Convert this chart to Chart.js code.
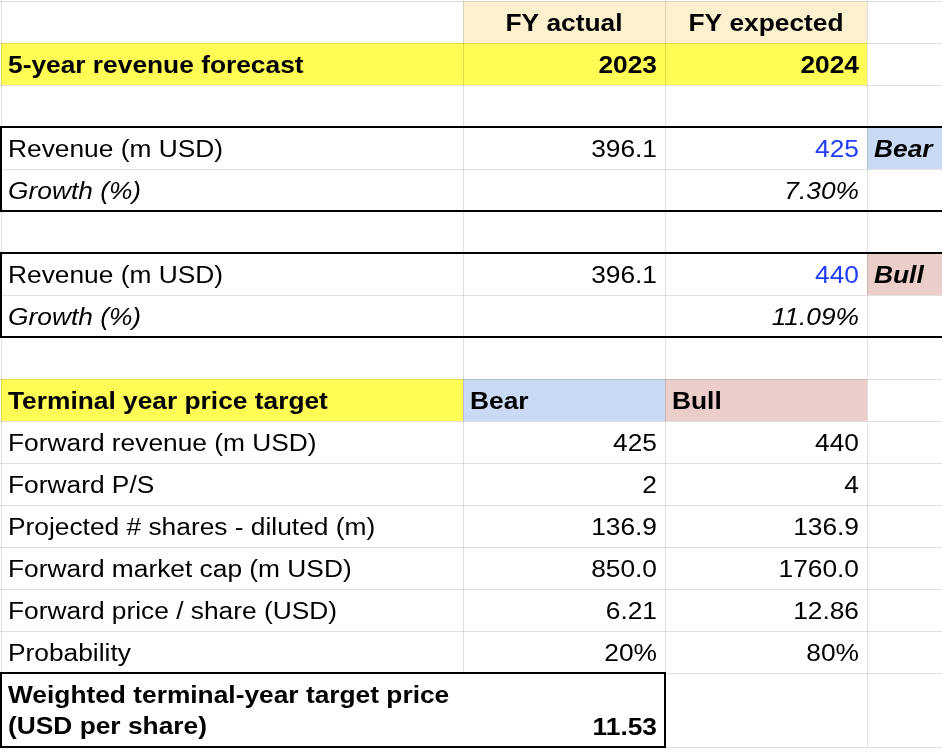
<!DOCTYPE html>
<html>
<head>
<meta charset="utf-8">
<script src="https://cdn.jsdelivr.net/npm/chart.js@4.4.1/dist/chart.umd.min.js"></script>
<style>
  body { margin: 0; background: #fff; }
  #wrap { width: 942px; height: 754px; }
</style>
</head>
<body>
<div id="wrap"><canvas id="sheet" width="942" height="754"></canvas></div>
<script>
// header / forecast block
const periodLabels = ['FY actual', 'FY expected'];
const fiscalYears = ['2023', '2024'];
const revenueActual = '396.1';
const bearRevenue = '425';
const bearGrowth = '7.30%';
const bullRevenue = '440';
const bullGrowth = '11.09%';

// price target block
const targetLabels = [
    'Forward revenue (m USD)',
    'Forward P/S',
    'Projected # shares - diluted (m)',
    'Forward market cap (m USD)',
    'Forward price / share (USD)',
    'Probability'
];
const bearValues = ['425', '2', '136.9', '850.0', '6.21', '20%'];
const bullValues = ['440', '4', '136.9', '1760.0', '12.86', '80%'];
const weightedLabel = ['Weighted terminal-year target price', '(USD per share)'];
const weightedPrice = '11.53';

// layout (sheet units)
const colEdges = [1, 463, 665, 867, 942];
const rowHeights = [42, 42, 42, 42, 42, 42, 42, 42, 42, 42, 42, 42, 42, 42, 42, 42, 74];
const FONT_SIZE = 23.5;
const TEXT_STRETCH = 1.12;   // the sheet text is rendered a bit wide

const YELLOW = '#fffc55';
const HEADER = '#fcf0cf';
const BLUE_FILL = '#cbdaf4';
const PINK_FILL = '#ebcdca';
const BLUE_TEXT = '#1f3cff';

const rowEdges = [1];
rowHeights.forEach(h => rowEdges.push(rowEdges[rowEdges.length - 1] + h));

function cell(text, opts) {
    return Object.assign({text: text, align: 'left'}, opts || {});
}

const rows = [];
rows.push([cell(''), cell(periodLabels[0], {align: 'center', bold: true, fill: HEADER}),
    cell(periodLabels[1], {align: 'center', bold: true, fill: HEADER}), cell('')]);
rows.push([cell('5-year revenue forecast', {bold: true, fill: YELLOW}),
    cell(fiscalYears[0], {align: 'right', bold: true, fill: YELLOW}),
    cell(fiscalYears[1], {align: 'right', bold: true, fill: YELLOW}), cell('')]);
rows.push([]);
rows.push([cell('Revenue (m USD)'), cell(revenueActual, {align: 'right'}),
    cell(bearRevenue, {align: 'right', color: BLUE_TEXT}),
    cell('Bear', {bold: true, italic: true, fill: BLUE_FILL})]);
rows.push([cell('Growth (%)', {italic: true}), cell(''), cell(bearGrowth, {align: 'right', italic: true}), cell('')]);
rows.push([]);
rows.push([cell('Revenue (m USD)'), cell(revenueActual, {align: 'right'}),
    cell(bullRevenue, {align: 'right', color: BLUE_TEXT}),
    cell('Bull', {bold: true, italic: true, fill: PINK_FILL})]);
rows.push([cell('Growth (%)', {italic: true}), cell(''), cell(bullGrowth, {align: 'right', italic: true}), cell('')]);
rows.push([]);
rows.push([cell('Terminal year price target', {bold: true, fill: YELLOW}),
    cell('Bear', {bold: true, fill: BLUE_FILL}), cell('Bull', {bold: true, fill: PINK_FILL}), cell('')]);
targetLabels.forEach((label, i) => {
    rows.push([cell(label), cell(bearValues[i], {align: 'right'}), cell(bullValues[i], {align: 'right'}), cell('')]);
});
rows.push([cell(weightedLabel, {bold: true}), cell(weightedPrice, {align: 'right', bold: true}), cell(''), cell('')]);

// black outlines: [firstCol, lastCol, firstRow, lastRow]
const outlines = [[0, 4, 3, 4], [0, 4, 6, 7], [0, 1, 16, 16]];

const sheetPlugin = {
    id: 'sheet',
    afterDraw(chart) {
        const ctx = chart.ctx;
        const xs = chart.scales.x;
        const ys = chart.scales.y;
        const px = v => xs.getPixelForValue(v);
        const py = v => ys.getPixelForValue(v);
        ctx.save();

        // fills
        rows.forEach((row, r) => {
            row.forEach((c, k) => {
                if (!c.fill) return;
                const x0 = px(colEdges[k]);
                const x1 = k + 1 < colEdges.length ? px(colEdges[k + 1]) : chart.width;
                ctx.fillStyle = c.fill;
                ctx.fillRect(x0, py(rowEdges[r]), x1 - x0, py(rowEdges[r + 1]) - py(rowEdges[r]));
            });
        });

        // grid lines
        ctx.strokeStyle = 'rgba(0,0,0,0.12)';
        ctx.lineWidth = 1;
        rowEdges.forEach(e => {
            const y = Math.round(py(e)) + 0.5;
            ctx.beginPath();
            ctx.moveTo(0, y);
            ctx.lineTo(chart.width, y);
            ctx.stroke();
        });
        colEdges.slice(0, 4).forEach((e, k) => {
            const x = Math.round(px(e)) + 0.5;
            ctx.beginPath();
            for (let r = 0; r < rowHeights.length; r++) {
                if (k === 1 && r === rowHeights.length - 1) continue;
                ctx.moveTo(x, py(rowEdges[r]));
                ctx.lineTo(x, py(rowEdges[r + 1]));
            }
            ctx.stroke();
        });

        // text
        rows.forEach((row, r) => {
            row.forEach((c, k) => {
                if (!c.text) return;
                const x0 = px(colEdges[k]);
                const x1 = px(colEdges[k + 1]);
                const bottom = py(rowEdges[r + 1]);
                ctx.font = (c.italic ? 'italic ' : '') + (c.bold ? 'bold ' : '') +
                    FONT_SIZE + 'px "Liberation Sans", Arial, sans-serif';
                ctx.fillStyle = c.color || '#000';
                ctx.textBaseline = 'alphabetic';
                let x;
                if (c.align === 'center') { ctx.textAlign = 'center'; x = (x0 + x1) / 2; }
                else if (c.align === 'right') { ctx.textAlign = 'right'; x = x1 - 8; }
                else { ctx.textAlign = 'left'; x = x0 + 7; }
                const lines = Array.isArray(c.text) ? c.text : [c.text];
                lines.forEach((line, i) => {
                    const last = lines.length - 1 - i;
                    ctx.save();
                    ctx.translate(x, bottom - (lines.length > 1 ? 13 : 12) - last * 31);
                    ctx.scale(TEXT_STRETCH, 1);
                    ctx.fillText(line, 0, 0);
                    ctx.restore();
                });
            });
        });

        // black outlines
        ctx.strokeStyle = '#000';
        ctx.lineWidth = 2;
        outlines.forEach(o => {
            const x0 = px(colEdges[o[0]]);
            const x1 = o[1] + 1 < colEdges.length ? px(colEdges[o[1] + 1]) : chart.width + 2;
            const y0 = py(rowEdges[o[2]]);
            const y1 = py(rowEdges[o[3] + 1]);
            ctx.strokeRect(x0, y0, x1 - x0, y1 - y0);
        });
        ctx.restore();
    }
};

new Chart(document.getElementById('sheet'), {
    type: 'scatter',
    data: {datasets: [{data: []}]},
    plugins: [sheetPlugin],
    options: {
        responsive: false,
        animation: false,
        events: [],
        layout: {padding: 0},
        plugins: {legend: {display: false}, tooltip: {enabled: false}},
        scales: {
            x: {type: 'linear', min: 0, max: 942, display: false},
            y: {type: 'linear', min: 0, max: 754, reverse: true, display: false}
        }
    }
});
</script>
</body>
</html>
